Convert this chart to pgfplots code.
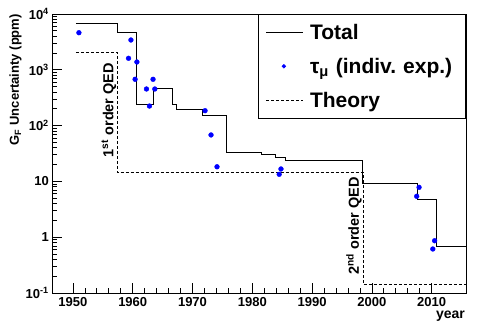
\documentclass[border=0pt]{standalone}
\usepackage{pgfplots}
\pgfplotsset{compat=1.18}
\usepackage{fontspec}
\setmainfont{Liberation Sans}
\pgfplotsset{
    lineleg/.style={legend image code/.code={\draw[##1] (0pt,0pt) -- (36.6pt,0pt);}},
    dotleg/.style={legend image code/.code={\draw[mark repeat=2,mark phase=2,##1,mark size=1.8pt]
        plot coordinates {(0pt,0pt) (17.6pt,0pt) (36.6pt,0pt)};}},
}
\begin{document}
\begin{tikzpicture}
\path[use as bounding box] (0,0) rectangle (478pt,327pt);
\begin{axis}[
    at={(52pt,34pt)}, anchor=south west,
    scale only axis, width=414pt, height=279pt,
    ymode=log, ymin=0.1, ymax=10000,
    xmin=1946.5, xmax=2015.75,
    xtick={1950,1960,1970,1980,1990,2000,2010},
    xticklabels={1950,1960,1970,1980,1990,2000,2010},
    minor x tick num=4,
    ytick={0.1,1,10,100,1000,10000},
    yticklabels={10\textsuperscript{-1},1,10,10\textsuperscript{2},10\textsuperscript{3},10\textsuperscript{4}},
    minor ytick={0.2,0.3,0.4,0.5,0.6,0.7,0.8,0.9,2,3,4,5,6,7,8,9,
        20,30,40,50,60,70,80,90,200,300,400,500,600,700,800,900,
        2000,3000,4000,5000,6000,7000,8000,9000},
    tick pos=left, tick align=inside,
    major tick length=10pt, minor tick length=5pt,
    tick style={black, line width=0.7pt},
    axis line style={black, line width=0.8pt},
    xticklabel style={font=\bfseries\fontsize{13}{15}\selectfont, anchor=north, inner sep=0pt, yshift=-4pt},
    yticklabel style={font=\bfseries\fontsize{13}{15}\selectfont, anchor=east, inner sep=0pt, xshift=-3pt},
    ylabel={G\textsubscript{F} Uncertainty (ppm)},
    ylabel style={at={(axis description cs:-0.088,1)}, anchor=east, rotate=0,
        font=\bfseries\fontsize{13}{15}\selectfont, inner sep=0pt},
    xlabel={year},
    xlabel style={at={(axis description cs:1,0)}, anchor=north east, inner sep=0pt,
        yshift=-17.5pt, xshift=-1pt, font=\bfseries\fontsize{14}{16}\selectfont},
    legend style={at={(1,1)}, anchor=north east, draw=black, line width=0.6pt, fill=white,
        font=\bfseries\fontsize{21}{24}\selectfont, inner xsep=7.7pt, inner ysep=10.5pt,
        row sep=19pt, column sep=6.7pt,
        nodes={inner sep=0pt, text height=15pt, text depth=0pt, text width=148pt, align=left},
        cells={anchor=west}},
    legend cell align=left,
]
\addplot[const plot, black, line width=0.8pt, lineleg] coordinates {
    (1950.5,6900) (1957.4,4620) (1960.6,241) (1963.5,466) (1966.6,241)
    (1967.35,198) (1971.6,153) (1975.6,32.7) (1981.6,30.1) (1983.8,27.0)
    (1985.6,24.2) (1998.5,9.25) (2007.6,4.78) (2010.8,0.695) (2015.75,0.695)
};
\addlegendentry{Total}
\addplot[only marks, mark=*, mark size=2.4pt, color=blue, dotleg] coordinates {
    (1951.0,4620) (1959.7,3420) (1959.3,1608) (1960.7,1380) (1960.4,676)
    (1962.3,453) (1963.4,676) (1963.7,453) (1962.8,224) (1972.1,185)
    (1973.1,68) (1974.1,18.3) (1984.8,16.7) (1984.5,13.4) (2007.9,7.83)
    (2007.5,5.41) (2010.5,0.865) (2010.2,0.615)
};
\addlegendentry{τ\textsubscript{μ} (indiv.\ exp.)}
\addplot[const plot, black, line width=0.7pt, dash pattern=on 3pt off 2pt, lineleg] coordinates {
    (1950.5,2080) (1957.4,14.6) (1998.5,0.145) (2015.75,0.145)
};
\addlegendentry{Theory}
\node[rotate=90, font=\bfseries\fontsize{14.5}{17}\selectfont, inner sep=0pt]
    at (axis cs:1956.0,190) {1\textsuperscript{st} order QED};
\node[rotate=90, font=\bfseries\fontsize{14.5}{17}\selectfont, inner sep=0pt]
    at (axis cs:1997.0,1.59) {2\textsuperscript{nd} order QED};
\end{axis}
\end{tikzpicture}
\end{document}
